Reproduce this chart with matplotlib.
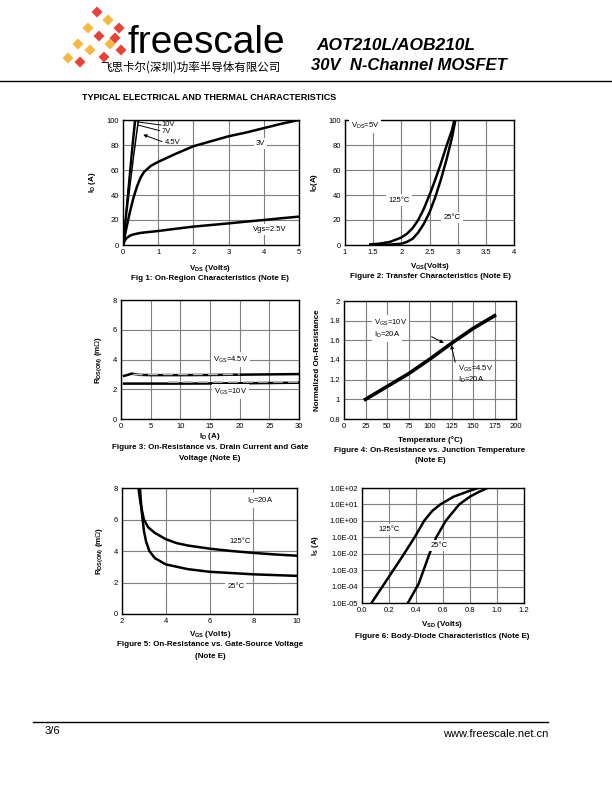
import numpy as np
import matplotlib.pyplot as plt
from matplotlib.patches import Polygon, FancyArrowPatch

plt.rcParams['font.family'] = ['Liberation Sans', 'Noto Sans CJK SC', 'DejaVu Sans']
plt.rcParams['mathtext.fontset'] = 'custom'
plt.rcParams['mathtext.rm'] = 'Liberation Sans'

W, H = 612, 792

# ---- data ----
# Fig 1: output characteristics
f1_10v_x = [0, 0.1, 0.2, 0.3, 0.33]
f1_10v_y = [0, 31, 62, 92, 100]
f1_7v_x = [0, 0.1, 0.2, 0.3, 0.36]
f1_7v_y = [0, 29, 57, 84, 100]
f1_45v_x = [0, 0.1, 0.2, 0.3, 0.4, 0.44]
f1_45v_y = [0, 24, 48, 71, 92, 100]
f1_3v_x = [0, 0.1, 0.2, 0.3, 0.4, 0.5, 0.6, 0.8, 1, 1.5, 2, 2.5, 3, 3.5, 4, 4.5, 5]
f1_3v_y = [0, 14, 27, 38, 47, 54, 58.5, 63.5, 66.5, 73, 79, 83, 87, 90, 93.5, 97, 100]
f1_25v_x = [0, 0.05, 0.1, 0.2, 0.3, 0.5, 1, 1.5, 2, 2.5, 3, 3.5, 4, 4.5, 5]
f1_25v_y = [0, 3.5, 5.5, 7.5, 8.5, 9.7, 11.2, 13, 14.7, 16, 17.3, 18.7, 20, 21.4, 22.7]

# Fig 2: transfer characteristics
f2_25_x = [1.45, 1.8, 2.0, 2.1, 2.2, 2.3, 2.4, 2.5, 2.6, 2.7, 2.8, 2.9, 2.96]
f2_25_y = [0.1, 0.3, 1, 2.5, 5, 10, 17, 26, 38, 52, 68, 86, 100]
f2_125_x = [1.45, 1.6, 1.8, 2.0, 2.1, 2.2, 2.3, 2.4, 2.5, 2.6, 2.7, 2.8, 2.9, 2.94]
f2_125_y = [0.5, 1, 2.5, 6, 9, 13.5, 20, 29, 40, 52, 65, 79, 92, 100]

# Fig 3: Rds(on) vs Id
f3_id = [0.5, 1, 1.8, 3, 5, 10, 15, 20, 25, 30]
f3_45v = [2.9, 2.95, 3.05, 2.97, 2.95, 2.95, 2.96, 2.98, 3.0, 3.02]
f3_10v = [2.38, 2.38, 2.38, 2.38, 2.38, 2.38, 2.39, 2.4, 2.42, 2.44]
f3_45v_b = [2.98, 3.0, 3.0, 3.0, 3.0, 3.0, 3.0, 3.0]
f3_id_b = [2, 5, 8, 10, 12, 15, 18, 20]
f3_10v_b = [2.47, 2.47, 2.47, 2.47, 2.47, 2.47]
f3_id_c = [8, 10, 20, 24, 27, 30]

# Fig 4: normalized Rds(on) vs temperature
f4_t = [25, 50, 75, 100, 125, 150, 175]
f4_r = [1.0, 1.13, 1.26, 1.41, 1.57, 1.72, 1.85]

# Fig 5: Rds(on) vs Vgs
f5_25_x = [2.82, 2.9, 3.0, 3.1, 3.25, 3.5, 4, 5, 6, 7, 8, 9, 10]
f5_25_y = [8, 6.5, 5.3, 4.6, 4.0, 3.55, 3.15, 2.85, 2.68, 2.6, 2.52, 2.47, 2.42]
f5_125_x = [2.75, 2.85, 3.0, 3.2, 3.5, 4, 4.5, 5, 6, 7, 8, 9, 10]
f5_125_y = [8, 7, 6, 5.5, 5.15, 4.75, 4.5, 4.35, 4.15, 4.0, 3.88, 3.78, 3.7]

# Fig 6: body diode
f6_125_x = [0.07, 0.2, 0.3, 0.39, 0.46, 0.52, 0.58, 0.68, 0.78, 0.86]
f6_125_y = [1e-5, 4e-4, 7e-3, 1e-1, 1e0, 4e0, 1e1, 3e1, 6e1, 1e2]
f6_25_x = [0.34, 0.42, 0.5, 0.55, 0.62, 0.68, 0.72, 0.8, 0.87, 0.93]
f6_25_y = [1e-5, 1.5e-4, 1e-2, 1e-1, 1e0, 4e0, 1e1, 3e1, 6e1, 1e2]

fig = plt.figure(figsize=(W / 100, H / 100), dpi=100)
bg = fig.add_axes([0, 0, 1, 1])
bg.set_xlim(0, W)
bg.set_ylim(H, 0)
bg.axis('off')

# ---- header ----
# logo tiles (pixel centre, colour)
tiles = [(97, 12, 'r'), (108, 20, 'o'), (119, 28, 'r'), (88, 28, 'o'), (99, 36, 'r'),
         (110, 44, 'o'), (121, 50, 'r'), (78, 44, 'o'), (90, 50, 'o'), (104, 57, 'r'),
         (68, 58, 'o'), (80, 62, 'r'), (115, 38, 'r')]
cmap = {'r': '#e8413a', 'o': '#f6b840'}
for tx, ty, tc in tiles:
    s = 5.5
    bg.add_patch(Polygon([(tx - s, ty), (tx, ty - s), (tx + s, ty), (tx, ty + s)],
                         closed=True, color=cmap[tc], lw=0))
bg.text(127, 53, 'freescale', fontsize=28, color='black', va='baseline')
bg.text(100, 67, '飞思卡尔(深圳)功率半导体有限公司', fontsize=8.3, va='center',
        family=['Noto Sans CJK SC'])
bg.text(316, 45, 'AOT210L/AOB210L', fontsize=12.5, fontweight='bold', style='italic', va='center')
bg.text(311, 66, '30V  N-Channel MOSFET', fontsize=12, fontweight='bold', style='italic', va='center')
bg.plot([0, W], [81, 81], color='black', lw=1)
bg.text(82, 97, 'TYPICAL ELECTRICAL AND THERMAL CHARACTERISTICS', fontsize=6.5,
        fontweight='bold', va='center')

# ---- footer ----
bg.plot([33, 548], [722, 722], color='black', lw=1)
bg.text(45, 731, '3/6', fontsize=8, va='center')
bg.text(548, 734, 'www.freescale.net.cn', fontsize=8, va='center', ha='right')


def make_ax(l, r, t, b):
    ax = fig.add_axes([l / W, 1 - b / H, (r - l) / W, (b - t) / H])
    ax.grid(True, color='#7f7f7f', lw=0.8)
    ax.set_axisbelow(True)
    ax.tick_params(length=0, labelsize=5.5, pad=3)
    for sp in ax.spines.values():
        sp.set_linewidth(1)
    return ax


def arrow(ax, p0, p1):
    ax.add_patch(FancyArrowPatch(p0, p1, arrowstyle='-|>', color='black',
                                 lw=0.7, mutation_scale=5))


box = dict(facecolor='white', edgecolor='none', pad=1.5)
tk = dict(fontsize=5.5)
lab = dict(fontsize=5.8, fontweight='bold')
cap = dict(fontsize=5.8, fontweight='bold', ha='center', va='center')

# Fig 1
ax = make_ax(123, 299, 120, 245)
ax.plot(f1_10v_x, f1_10v_y, color='black', lw=1.1)
ax.plot(f1_7v_x, f1_7v_y, color='black', lw=1.1)
ax.plot(f1_45v_x, f1_45v_y, color='black', lw=1.1)
ax.plot(f1_3v_x, f1_3v_y, color='black', lw=1.8)
ax.plot(f1_25v_x, f1_25v_y, color='black', lw=1.8)
ax.set_xlim(0, 5)
ax.set_ylim(0, 100)
ax.set_xticks(range(6))
ax.set_yticks(range(0, 101, 20))
ax.plot([0.4, 1.08], [98.5, 96], color='black', lw=0.7)
ax.plot([0.42, 1.04], [96, 91.5], color='black', lw=0.7)
arrow(ax, (1.18, 82), (0.5, 89))
ax.text(1.1, 96.5, '10V', va='center', **tk)
ax.text(1.1, 90.5, '7V', va='center', **tk)
ax.text(1.2, 82, '4.5V', va='center', **tk)
ax.text(3.9, 81.5, '3V', ha='center', va='center', bbox=box, **tk)
ax.text(4.17, 12.5, 'Vgs=2.5V', ha='center', va='center', bbox=box, **tk)
ax.set_ylabel(r'$\mathregular{I_D}$ (A)', labelpad=6, **lab)
fig.text(210 / W, 1 - 268 / H, r'$\mathregular{V_{DS}}$ (Volts)', **cap)
fig.text(210 / W, 1 - 278 / H, 'Fig 1: On-Region Characteristics (Note E)', **cap)

# Fig 2
ax = make_ax(345, 514, 120, 245)
ax.plot(f2_125_x, f2_125_y, color='black', lw=1.8)
ax.plot(f2_25_x, f2_25_y, color='black', lw=1.8)
ax.set_xlim(1, 4)
ax.set_ylim(0, 100)
ax.set_xticks([1, 1.5, 2, 2.5, 3, 3.5, 4])
ax.set_xticklabels(['1', '1.5', '2', '2.5', '3', '3.5', '4'])
ax.set_yticks(range(0, 101, 20))
ax.text(1.1, 95.5, r'$\mathregular{V_{DS}}$=5V', va='center', bbox=box, **tk)
ax.text(1.96, 36, '125°C', ha='center', va='center', bbox=box, **tk)
ax.text(2.9, 22, '25°C', ha='center', va='center', bbox=box, **tk)
ax.set_ylabel(r'$\mathregular{I_D}$(A)', labelpad=6, **lab)
fig.text(430 / W, 1 - 266 / H, r'$\mathregular{V_{GS}}$(Volts)', **cap)
fig.text(430 / W, 1 - 276 / H, 'Figure 2: Transfer Characteristics (Note E)', **cap)

# Fig 3
ax = make_ax(121, 299, 300, 419)
ax.plot(f3_id, f3_45v, color='black', lw=1.8)
ax.plot(f3_id, f3_10v, color='black', lw=1.8)
ax.plot(f3_id_b, f3_45v_b, color='#b5b5b5', lw=1.2, dashes=(6, 3))
ax.plot(f3_id_c, f3_10v_b, color='#b5b5b5', lw=1.2, dashes=(6, 3))
ax.set_xlim(0, 30)
ax.set_ylim(0, 8)
ax.set_xticks(range(0, 31, 5))
ax.set_yticks(range(0, 9, 2))
ax.text(18.4, 4.0, r'$\mathregular{V_{GS}}$=4.5V', ha='center', va='center', bbox=box, **tk)
ax.text(18.4, 1.85, r'$\mathregular{V_{GS}}$=10V', ha='center', va='center', bbox=box, **tk)
ax.set_ylabel(r'$\mathregular{R_{DS(ON)}}$ (m$\Omega$)', labelpad=6, **lab)
fig.text(210 / W, 1 - 436 / H, r'$\mathregular{I_D}$ (A)', **cap)
fig.text(210 / W, 1 - 447 / H, 'Figure 3: On-Resistance vs. Drain Current and Gate', **cap)
fig.text(210 / W, 1 - 458 / H, 'Voltage (Note E)', **cap)

# Fig 4
ax = make_ax(344, 516, 301, 419)
ax.plot(f4_t, f4_r, color='black', lw=2.6)
ax.set_xlim(0, 200)
ax.set_ylim(0.8, 2)
ax.set_xticks(range(0, 201, 25))
ax.set_yticks([0.8, 1, 1.2, 1.4, 1.6, 1.8, 2])
ax.set_yticklabels(['0.8', '1', '1.2', '1.4', '1.6', '1.8', '2'])
ax.text(35, 1.78, r'$\mathregular{V_{GS}}$=10V', va='center', bbox=box, **tk)
ax.text(35, 1.66, r'$\mathregular{I_D}$=20A', va='center', bbox=box, **tk)
ax.text(132, 1.31, r'$\mathregular{V_{GS}}$=4.5V', va='center', **tk)
ax.text(132, 1.195, r'$\mathregular{I_D}$=20A', va='center', **tk)
arrow(ax, (99, 1.65), (119, 1.56))
arrow(ax, (130, 1.35), (124, 1.58))
ax.set_ylabel('Normalized On-Resistance', labelpad=6, **lab)
fig.text(430 / W, 1 - 440 / H, 'Temperature (°C)', **cap)
fig.text(430 / W, 1 - 451 / H, 'Figure 4: On-Resistance vs. Junction Temperature', **cap)
fig.text(430 / W, 1 - 461 / H, '(Note E)', **cap)

# Fig 5
ax = make_ax(122, 297, 488, 614)
ax.plot(f5_125_x, f5_125_y, color='black', lw=1.8)
ax.plot(f5_25_x, f5_25_y, color='black', lw=1.8)
ax.set_xlim(2, 10)
ax.set_ylim(0, 8)
ax.set_xticks(range(2, 11, 2))
ax.set_yticks(range(0, 9, 2))
ax.text(8.3, 7.2, r'$\mathregular{I_D}$=20A', ha='center', va='center', bbox=box, **tk)
ax.text(7.4, 4.6, '125°C', ha='center', va='center', bbox=box, **tk)
ax.text(7.2, 1.75, '25°C', ha='center', va='center', bbox=box, **tk)
ax.set_ylabel(r'$\mathregular{R_{DS(ON)}}$ (m$\Omega$)', labelpad=6, **lab)
fig.text(210 / W, 1 - 634 / H, r'$\mathregular{V_{GS}}$ (Volts)', **cap)
fig.text(210 / W, 1 - 645 / H, 'Figure 5: On-Resistance vs. Gate-Source Voltage', **cap)
fig.text(210 / W, 1 - 656 / H, '(Note E)', **cap)

# Fig 6
ax = make_ax(362, 524, 488, 603)
ax.semilogy(f6_125_x, f6_125_y, color='black', lw=1.8)
ax.semilogy(f6_25_x, f6_25_y, color='black', lw=1.8)
ax.set_xlim(0, 1.2)
ax.set_ylim(1e-5, 1e2)
ax.set_xticks(np.arange(0, 1.21, 0.2))
ax.set_xticklabels(['0.0', '0.2', '0.4', '0.6', '0.8', '1.0', '1.2'])
ax.set_yticks([10.0 ** k for k in range(-5, 3)])
ax.set_yticklabels(['1.0E-05', '1.0E-04', '1.0E-03', '1.0E-02', '1.0E-01',
                    '1.0E+00', '1.0E+01', '1.0E+02'])
ax.minorticks_off()
ax.text(0.2, 1.2e-1 * 10 ** 0.4, '125°C', ha='center', va='center', bbox=box, **tk)
ax.text(0.57, 10 ** -1.5, '25°C', ha='center', va='center', bbox=box, **tk)
ax.set_ylabel(r'$\mathregular{I_S}$ (A)', labelpad=6, **lab)
fig.text(442 / W, 1 - 625 / H, r'$\mathregular{V_{SD}}$ (Volts)', **cap)
fig.text(442 / W, 1 - 636 / H, 'Figure 6: Body-Diode Characteristics (Note E)', **cap)

fig.savefig('out.png', dpi=100)
